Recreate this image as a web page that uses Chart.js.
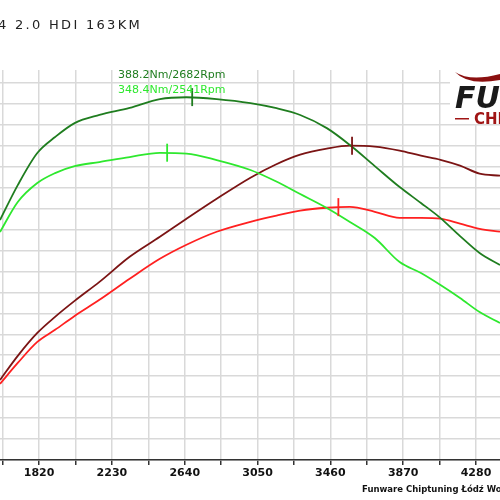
<!DOCTYPE html>
<html>
<head>
<meta charset="utf-8">
<script src="https://cdn.jsdelivr.net/npm/chart.js@4/dist/chart.umd.min.js"></script>
<style>
  html, body { margin: 0; padding: 0; background: #fff; }
  #wrap { width: 500px; height: 500px; }
</style>
</head>
<body>
<div id="wrap"><canvas id="c"></canvas></div>
<script>
const rpm = [1600, 1700, 1810, 1910, 2020, 2160, 2330, 2500, 2650, 2820, 3010, 3150, 3290, 3440, 3570, 3710, 3850, 3970, 4080, 4190, 4300, 4415]
const torqueTuned = [300.2, 325.2, 348.2, 359.6, 369.6, 375.4, 380.4, 386.8, 388.1, 386.8, 383.9, 380.4, 375.4, 366.0, 353.9, 338.8, 323.8, 312.4, 301.6, 288.7, 276.6, 268.0]
const torqueStock = [291.6, 313.1, 326.7, 333.8, 338.8, 341.7, 345.3, 348.3, 347.8, 343.1, 336.0, 328.1, 318.8, 308.8, 298.8, 287.3, 270.1, 262.3, 253.7, 244.4, 234.3, 226.5]
const powerTuned = [51.7, 67.3, 82.1, 92.5, 102.8, 115.1, 131.3, 144.2, 155.9, 168.8, 182.4, 190.8, 197.3, 201.2, 203.1, 202.5, 199.9, 196.6, 194.0, 190.2, 185.0, 183.7]
const powerStock = [49.2, 62.7, 76.3, 84.1, 93.1, 103.5, 117.1, 130.0, 139.1, 147.5, 153.9, 157.8, 161.1, 163.0, 163.6, 160.4, 156.5, 156.5, 155.9, 152.7, 149.4, 147.5]
const peakLabels = ['388.2Nm/2682Rpm', '348.4Nm/2541Rpm']
// peak marks: rpm, value, axis, colour
const peaks = [
  [2682, 388.2, 'y', '#1f7d1f'],
  [2541, 348.4, 'y', '#2ee82e'],
  [3582, 203.1, 'y2', '#7b1414'],
  [3505, 163.4, 'y2', '#ff2020'],
]

const pts = (vals) => rpm.map((r, i) => ({ x: r, y: vals[i] }))

const line = (label, vals, color, axis) => ({
  label, data: pts(vals), yAxisID: axis,
  borderColor: color, borderWidth: 1.8,
  pointRadius: 0, cubicInterpolationMode: 'monotone', fill: false,
})

const decor = {
  id: 'decor',
  afterDatasetsDraw(chart) {
    const ctx = chart.ctx
    const xs = chart.scales.x
    ctx.save()
    peaks.forEach(([r, v, ax, col]) => {
      const px = xs.getPixelForValue(r)
      const py = chart.scales[ax].getPixelForValue(v)
      ctx.strokeStyle = col
      ctx.lineWidth = 1.8
      ctx.beginPath()
      ctx.moveTo(px, py - 9)
      ctx.lineTo(px, py + 9)
      ctx.stroke()
    })

    ctx.fillStyle = '#222'
    ctx.font = '13px "DejaVu Sans"'
    ctx.letterSpacing = '2.3px'
    ctx.textBaseline = 'alphabetic'
    ctx.fillText('4 2.0 HDI 163KM', -2, 29)
    ctx.letterSpacing = '0px'

    ctx.font = '11px "DejaVu Sans"'
    ctx.fillStyle = '#1f7d1f'
    ctx.fillText(peakLabels[0], 118, 78)
    ctx.fillStyle = '#2ee82e'
    ctx.fillText(peakLabels[1], 118, 93)

    // logo
    ctx.fillStyle = '#fff'
    ctx.fillRect(450, 62, 50, 62)
    ctx.fillStyle = '#8b1010'
    ctx.beginPath()
    ctx.moveTo(455, 72)
    ctx.quadraticCurveTo(470, 82, 500, 74)
    ctx.lineTo(500, 80)
    ctx.quadraticCurveTo(468, 86, 455, 72)
    ctx.fill()
    ctx.fillStyle = '#1a1a1a'
    ctx.font = 'italic bold 30px "DejaVu Sans"'
    ctx.fillText('FUNWARE', 455, 108)
    ctx.fillStyle = '#a01515'
    ctx.font = 'bold 15px "DejaVu Sans"'
    ctx.fillText('CHIPTUNING', 474, 124)
    ctx.fillRect(455, 118, 14, 1.5)

    ctx.fillStyle = '#111'
    ctx.font = 'bold 8.5px "DejaVu Sans"'
    ctx.fillText('Funware Chiptuning Łódź Wodociągowa', 362, 492)
    ctx.restore()
  }
}

new Chart(document.getElementById('c'), {
  type: 'line',
  data: {
    datasets: [
      line('Moment tuning', torqueTuned, '#1f7d1f', 'y'),
      line('Moment seria', torqueStock, '#2ee82e', 'y'),
      line('Moc tuning', powerTuned, '#7b1414', 'y2'),
      line('Moc seria', powerStock, '#ff2020', 'y2'),
    ]
  },
  options: {
    responsive: true,
    maintainAspectRatio: false,
    animation: false,
    layout: { padding: { top: 70, left: 0, right: 0, bottom: 0 } },
    scales: {
      x: {
        type: 'linear', min: 1600, max: 4415,
        afterBuildTicks(s) {
          const t = []
          for (let v = 1615; v <= 4415; v += 205) t.push({ value: v })
          s.ticks = t
        },
        afterFit(s) { s.height = 40 },
        grid: { color: '#d9d9d9', lineWidth: 1.5, tickColor: '#333', tickLength: 5 },
        border: { color: '#333', width: 1.5 },
        ticks: {
          autoSkip: false, maxRotation: 0, padding: 2, color: '#111',
          font: { family: 'DejaVu Sans', size: 11, weight: 'bold' },
          callback: (v) => ((v - 1820) % 410 === 0 ? String(v) : ''),
        },
      },
      y: {
        min: 128.4, max: 407.6,
        afterBuildTicks(s) {
          const t = []
          for (let v = 128.4; v <= 407.6; v += 15) t.push({ value: v })
          s.ticks = t
        },
        afterFit(s) { s.width = 0 },
        grid: { color: '#d9d9d9', lineWidth: 1.5, drawTicks: false },
        border: { display: false },
        ticks: { display: false },
      },
      y2: { display: false, min: 0, max: 252 },
    },
    plugins: { legend: { display: false }, tooltip: { enabled: false } },
  },
  plugins: [decor],
})
</script>
</body>
</html>
